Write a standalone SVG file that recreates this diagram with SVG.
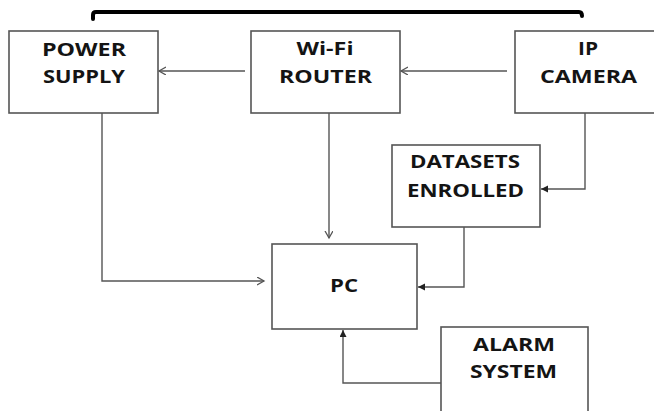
<svg xmlns="http://www.w3.org/2000/svg" width="654" height="411" viewBox="0 0 654 411">
<style>
.box{fill:#fff;stroke:#555;stroke-width:1.6}
.lbl{font-family:"Open Sans","Liberation Sans",sans-serif;font-weight:bold;font-size:18px;fill:#141414;text-anchor:middle}
.con{fill:none;stroke:#555;stroke-width:1.4}
</style>
<defs>
<marker id="open" markerUnits="userSpaceOnUse" markerWidth="10" markerHeight="10" refX="7" refY="4" orient="auto">
<path d="M0,0 L7,4 L0,8" fill="none" stroke="#555" stroke-width="1.3"/>
</marker>
<marker id="fill" markerUnits="userSpaceOnUse" markerWidth="10" markerHeight="10" refX="7" refY="3.5" orient="auto">
<path d="M0,0 L7,3.5 L0,7 z" fill="#222"/>
</marker>
</defs>
<rect width="654" height="411" fill="#fff"/>
<path d="M93,19 V15 Q93,12 96,12 H579 Q582,12 582,16" fill="none" stroke="#000" stroke-width="4" stroke-linecap="round"/>
<g id="connectors">
<path class="con" d="M245,71 H159" marker-end="url(#open)"/>
<path class="con" d="M507,71 H401" marker-end="url(#open)"/>
<path class="con" d="M102,113 V281 H264" marker-end="url(#open)"/>
<path class="con" d="M329,113 V238" marker-end="url(#open)"/>
<path class="con" d="M585,113 V189 H541" marker-end="url(#fill)"/>
<path class="con" d="M464,227 V287 H418" marker-end="url(#fill)"/>
<path class="con" d="M441,383 H343 V330" marker-end="url(#fill)"/>
</g>
<g id="power">
<rect class="box" x="9" y="31" width="149" height="82"/>
<text class="lbl" x="84" y="56" textLength="84" lengthAdjust="spacingAndGlyphs">POWER</text>
<text class="lbl" x="84" y="83" textLength="82" lengthAdjust="spacingAndGlyphs">SUPPLY</text>
</g>
<g id="router">
<rect class="box" x="251" y="31" width="149" height="82"/>
<text class="lbl" x="325" y="55" textLength="57" lengthAdjust="spacingAndGlyphs">Wi-Fi</text>
<text class="lbl" x="325.5" y="83" textLength="93" lengthAdjust="spacingAndGlyphs">ROUTER</text>
</g>
<g id="camera">
<rect class="box" x="515" y="31" width="149" height="82"/>
<text class="lbl" x="588" y="55" textLength="20" lengthAdjust="spacingAndGlyphs">IP</text>
<text class="lbl" x="588.5" y="83" textLength="97" lengthAdjust="spacingAndGlyphs">CAMERA</text>
</g>
<g id="datasets">
<rect class="box" x="392" y="145" width="148" height="82"/>
<text class="lbl" x="465" y="168" textLength="110" lengthAdjust="spacingAndGlyphs">DATASETS</text>
<text class="lbl" x="465.5" y="197" textLength="117" lengthAdjust="spacingAndGlyphs">ENROLLED</text>
</g>
<g id="pc">
<rect class="box" x="272" y="244" width="145" height="85"/>
<text class="lbl" x="344" y="292" textLength="28" lengthAdjust="spacingAndGlyphs">PC</text>
</g>
<g id="alarm">
<rect class="box" x="441" y="327" width="147" height="90"/>
<text class="lbl" x="514" y="351" textLength="82" lengthAdjust="spacingAndGlyphs">ALARM</text>
<text class="lbl" x="513.5" y="378" textLength="87" lengthAdjust="spacingAndGlyphs">SYSTEM</text>
</g>
</svg>
